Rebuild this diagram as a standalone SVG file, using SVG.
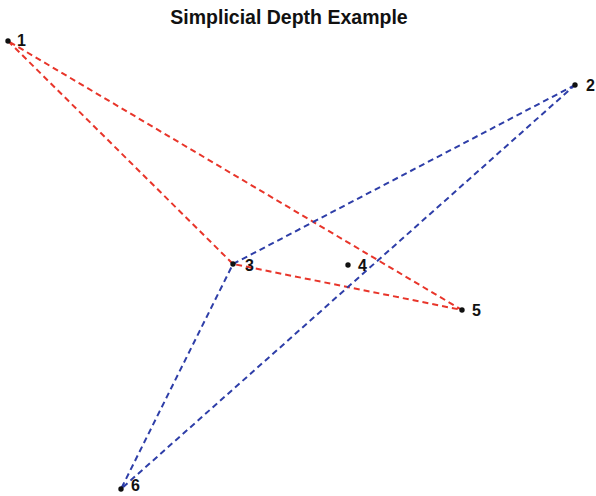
<svg xmlns="http://www.w3.org/2000/svg" width="596" height="496" viewBox="0 0 596 496">
<style>
.red{stroke:#e8352a;stroke-width:2;stroke-dasharray:6 4;fill:none}
.blue{stroke:#2e3ea8;stroke-width:2;stroke-dasharray:6 4;fill:none}
.lbl{font-family:"Liberation Sans",Arial,sans-serif;font-weight:bold;font-size:16px;fill:#111}
.title{font-family:"Liberation Sans",Arial,sans-serif;font-weight:bold;font-size:19.5px;fill:#111}
.pt{fill:#111}
</style>
<rect width="596" height="496" fill="#fff"/>
<text class="title" x="289" y="24" text-anchor="middle">Simplicial Depth Example</text>
<g id="connectors">
<polygon class="red" points="8,41 233,264 462,310"/>
<polygon class="blue" points="575,85 233,264 121,489"/>
</g>
<g id="p1"><circle class="pt" cx="8" cy="41" r="2.7"/><text class="lbl" x="17" y="46">1</text></g>
<g id="p2"><circle class="pt" cx="575" cy="85" r="2.7"/><text class="lbl" x="586" y="91">2</text></g>
<g id="p3"><circle class="pt" cx="233" cy="264" r="2.7"/><text class="lbl" x="245" y="271">3</text></g>
<g id="p4"><circle class="pt" cx="348" cy="265" r="2.7"/><text class="lbl" x="358" y="271">4</text></g>
<g id="p5"><circle class="pt" cx="462" cy="310" r="2.7"/><text class="lbl" x="472" y="316">5</text></g>
<g id="p6"><circle class="pt" cx="121" cy="489" r="2.7"/><text class="lbl" x="131" y="491">6</text></g>
</svg>
